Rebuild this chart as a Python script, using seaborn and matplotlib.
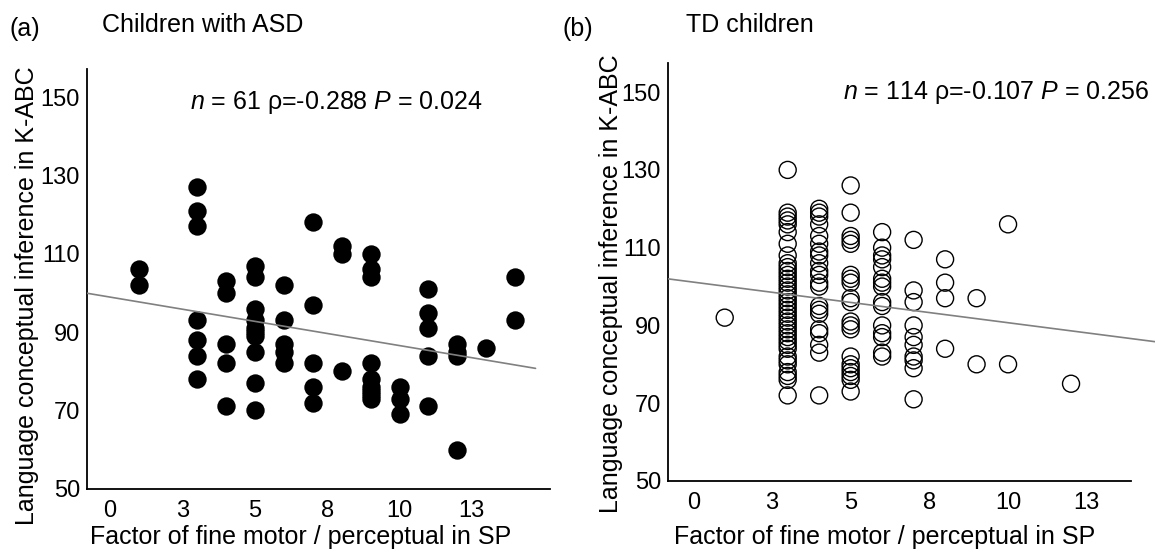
# plot.py
# Fine motor / perceptual factor vs K-ABC language conceptual inference

import numpy as np
import pandas as pd
import matplotlib
matplotlib.use('Agg')
import matplotlib.pyplot as plt
import seaborn as sns

# ── Data ──────────────────────────────────────────────
asd_x = ([1] * 2 + [3] * 7 + [4] * 5 + [5] * 10 + [6] * 5 + [7] * 5 + [8] * 3
         + [9] * 9 + [10] * 3 + [11] * 5 + [12] * 4 + [13] * 1 + [14] * 2)
asd_y = [106, 102,
         127, 121, 117, 93, 88, 84, 78,
         103, 100, 87, 82, 71,
         107, 104, 96, 93, 91, 90, 89, 85, 77, 70,
         102, 93, 87, 85, 82,
         118, 97, 82, 76, 72,
         112, 110, 80,
         110, 106, 104, 82, 78, 76, 75, 74, 73,
         76, 73, 69,
         101, 95, 91, 84, 71,
         87, 85, 84, 60,
         86,
         104, 93]

td_x = ([1] * 1 + [3] * 38 + [4] * 21 + [5] * 20 + [6] * 15 + [7] * 10 + [8] * 4
        + [9] * 2 + [10] * 2 + [12] * 1)
td_y = [92,
        130, 119, 118, 117, 116, 114, 111, 108, 106, 105, 104, 103, 102, 101, 100,
        99, 98, 97, 96, 95, 94, 93, 92, 91, 90, 89, 88, 87, 86, 85, 84, 82, 81,
        80, 78, 77, 76, 72,
        120, 119, 118, 116, 113, 111, 109, 108, 106, 104, 103, 101, 100, 95, 94,
        93, 89, 88, 85, 83, 72,
        126, 119, 113, 112, 111, 103, 102, 101, 97, 96, 91, 90, 89, 82, 80, 79,
        78, 77, 76, 73,
        114, 110, 108, 107, 105, 102, 101, 100, 96, 95, 90, 88, 87, 83, 82,
        112, 99, 96, 90, 87, 85, 82, 81, 79, 71,
        107, 101, 97, 84,
        97, 80,
        116, 80,
        75]

xtick_pos    = [0, 2.5, 5, 7.5, 10, 12.5]
xtick_labels = ['0', '3', '5', '8', '10', '13']
ytick_pos    = [50, 70, 90, 110, 130, 150]

stats_asd = r'$n$ = 61 ρ=-0.288 $P$ = 0.024'
stats_td  = r'$n$ = 114 ρ=-0.107 $P$ = 0.256'

asd = pd.DataFrame({'x': asd_x, 'y': asd_y})
td  = pd.DataFrame({'x': td_x, 'y': td_y})

# ── Style ─────────────────────────────────────────────
sns.set_theme(style='white')
plt.rcParams['font.family'] = ['Liberation Sans', 'DejaVu Sans']
plt.rcParams['mathtext.fontset'] = 'custom'
plt.rcParams['mathtext.it'] = 'Liberation Sans:italic'
plt.rcParams['mathtext.rm'] = 'Liberation Sans'
plt.rcParams['text.color'] = 'black'
plt.rcParams['axes.labelcolor'] = 'black'

XLAB = 'Factor of fine motor / perceptual in SP'
YLAB = 'Language conceptual inference in K-ABC'

fig = plt.figure(figsize=(11.55, 5.56), dpi=100)
ax_a = fig.add_axes([0.0753, 0.121, 0.4009, 0.755])
ax_b = fig.add_axes([0.5784, 0.135, 0.4225, 0.751])


def style_axes(ax, xlim, ylim, xbound):
    ax.set_xlim(*xlim)
    ax.set_ylim(*ylim)
    ax.set_xticks(xtick_pos, labels=xtick_labels)
    ax.set_yticks(ytick_pos)
    ax.tick_params(axis='both', length=0, labelsize=17, colors='black')
    ax.tick_params(axis='x', pad=8)
    ax.tick_params(axis='y', pad=5)
    for side in ['top', 'right']:
        ax.spines[side].set_visible(False)
    for side in ['left', 'bottom']:
        ax.spines[side].set_color('black')
        ax.spines[side].set_linewidth(1.3)
    ax.spines['bottom'].set_bounds(xlim[0], xbound)
    ax.set_xlabel(XLAB, fontsize=18)
    ax.set_ylabel(YLAB, fontsize=18)


# ── (a) Children with ASD ─────────────────────────────
ax_a.set_xlim(-0.8, 14.7)
sns.regplot(data=asd, x='x', y='y', ax=ax_a, scatter=False, ci=None,
            truncate=False, line_kws=dict(color='#808080', lw=1.2, zorder=3))
sns.scatterplot(data=asd, x='x', y='y', ax=ax_a, s=175, color='black',
                edgecolor='black', linewidth=0, zorder=2)
style_axes(ax_a, (-0.8, 15.2), (50, 157.2), 15.2)
ax_a.yaxis.set_label_coords(-0.104, 0.461)
ax_a.xaxis.set_label_coords(0.461, -0.087)

# ── (b) TD children ───────────────────────────────────
ax_b.set_xlim(-0.8, 14.7)
sns.regplot(data=td, x='x', y='y', ax=ax_b, scatter=False, ci=None,
            truncate=False, line_kws=dict(color='#808080', lw=1.2, zorder=3))
sns.scatterplot(data=td, x='x', y='y', ax=ax_b, s=150, facecolor='none',
                edgecolor='black', linewidth=1.0, zorder=2)
style_axes(ax_b, (-0.8, 14.7), (50, 157.4), 13.9)
ax_b.yaxis.set_label_coords(-0.093, 0.473)
ax_b.xaxis.set_label_coords(0.443, -0.105)

# ── Panel texts ───────────────────────────────────────
fig.text(0.0078, 0.948, '(a)', fontsize=18, va='center')
fig.text(0.0883, 0.955, 'Children with ASD', fontsize=18, va='center')
fig.text(0.4874, 0.948, '(b)', fontsize=18, va='center')
fig.text(0.5940, 0.955, 'TD children', fontsize=18, va='center')
fig.text(0.1645, 0.816, stats_asd, fontsize=18, va='center')
fig.text(0.7299, 0.833, stats_td, fontsize=18, va='center')

fig.savefig('out.png', dpi=100)
